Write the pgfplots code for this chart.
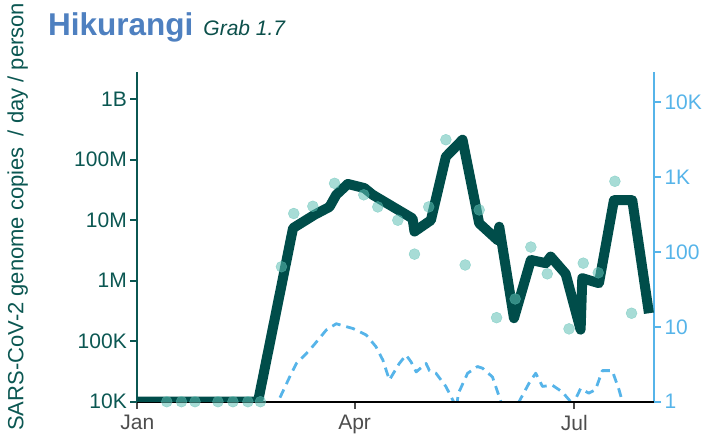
\documentclass[border=0pt]{standalone}
\usepackage{fontspec}
\setmainfont{Liberation Sans}
\usepackage{pgfplots}
\pgfplotsset{compat=1.18}
\definecolor{linecol}{HTML}{004D4A}
\definecolor{leftcol}{HTML}{0B5752}
\definecolor{ptcol}{HTML}{5FC0B5}
\definecolor{rightcol}{HTML}{56B4E9}
\definecolor{titlecol}{HTML}{4E80C0}
\definecolor{grabcol}{HTML}{0B4F4A}
\definecolor{xlabcol}{HTML}{4D4D4D}
\newcommand{\tickfont}{\fontsize{21bp}{24bp}\selectfont}
\begin{document}
\begin{tikzpicture}
% right axis (drawn first so its dashed line lies beneath)
\begin{axis}[
  scale only axis, width=516.7bp, height=329.7bp,
  at={(137.3bp,44.3bp)}, anchor=south west,
  xmin=0, xmax=214, ymode=log, ymin=1, ymax=25400,
  axis x line=none, axis y line*=right,
  y axis line style={-, rightcol, line width=2bp},
  ytick={1,10,100,1000,10000}, yticklabels={1,10,100,1K,10K},
  yticklabel style={rightcol, font=\tickfont},
  ytick style={rightcol, line width=2bp},
  tick align=outside, major tick length=7bp, yminorticks=false,
  clip=true,
]
\addplot[rightcol, line width=2.8bp, dash pattern=on 9bp off 6bp, line join=round] coordinates {
(0,0.8) (57,0.8) (58.3,1) (63.1,2.14) (65.9,3.24) (71.4,4.9) (78.3,9.1) (82.4,11) (85,10.4) (89.3,9.5)
(94.8,7.8) (98.9,5.4) (101.7,3.6) (104.4,1.95) (108.5,3.24) (111.3,4.2) (113.4,3.4)
(115.5,2.5) (119.6,3.24) (121,2.6) (123.7,2.4) (127.8,1.6) (131,1) (131.5,0.8) (132.5,1) (133,1.3)
(136.8,2.4) (140.9,2.95) (143,2.8) (147.1,2.14) (150.6,1) (151,0.8) (157.5,0.8) (158.1,1) (162.3,1.78)
(165,2.4) (167.8,1.6) (171.9,1.66) (176,1.35) (179.5,1) (180,0.8) (181,1) (183.6,1.5) (187,1.3)
(189.8,1.45) (192.6,2.6) (196.7,2.6) (199.5,1.45) (200.9,1) (201.5,0.8) (214,0.8)
};
\end{axis}
% left axis
\begin{axis}[
  scale only axis, width=516.7bp, height=329.7bp,
  at={(137.3bp,44.3bp)}, anchor=south west,
  xmin=0, xmax=214, ymode=log, ymin=1e4, ymax=2.82e9,
  axis x line*=bottom, axis y line*=left,
  x axis line style={-, black, line width=2bp},
  y axis line style={-, leftcol, line width=2bp},
  xtick={0,90,181}, xticklabels={Jan,Apr,Jul},
  ytick={1e4,1e5,1e6,1e7,1e8,1e9}, yticklabels={10K,100K,1M,10M,100M,1B},
  tick align=outside, major tick length=7bp, yminorticks=false, xminorticks=false,
  xtick style={xlabcol, line width=2bp}, ytick style={leftcol, line width=2bp},
  yticklabel style={leftcol, font=\tickfont},
  xticklabel style={xlabcol, font=\tickfont, yshift=-3bp},
  clip=true,
]
\addplot[linecol, line width=10bp, line join=round, line cap=butt] coordinates {
(0,1e4) (50,1e4) (64.5,7.4e6) (73.4,1.23e7) (79.6,1.66e7) (82.4,2.63e7) (87.2,3.98e7)
(94.1,3.39e7) (97.5,2.63e7) (114,1.07e7) (114.8,6.5e6) (121.6,1.0e7) (127.8,1.12e8)
(134.7,2.14e8) (141.6,8.9e6) (149.2,4.7e6) (149.9,7.8e6) (156,2.4e5) (163,2.2e6)
(169.2,1.95e6) (171.2,2.5e6) (177.4,1.3e6) (183.6,1.55e5) (184.3,1.1e6) (191.2,9.1e5)
(197.4,2.14e7) (205,2.14e7) (211.9,2.9e5)
};
\addplot[only marks, mark=*, color=ptcol, mark size=5.5bp, opacity=0.55] coordinates {
(12.2,1e4) (18.3,1e4) (23.9,1e4) (33.4,1e4) (39.6,1e4) (45.8,1e4) (51,1e4)
(59.7,1.7e6) (64.8,1.29e7) (72.7,1.7e7) (81.7,4.07e7) (93.8,2.63e7) (99.6,1.66e7)
(107.9,1.0e7) (114.8,2.75e6) (120.7,1.66e7) (127.8,2.14e8) (135.8,1.82e6)
(141.6,1.48e7) (148.8,2.45e5) (156.5,5.0e5) (163,3.6e6) (169.8,1.3e6) (178.8,1.6e5)
(184.7,1.95e6) (190.9,1.35e6) (197.8,4.4e7) (204.7,2.9e5)
};
\end{axis}
\node[anchor=base west, inner sep=0pt] at (48bp,410bp)
  {{\color{titlecol}\fontsize{31.5bp}{36bp}\selectfont\bfseries Hikurangi}\hspace{10bp}{\color{grabcol}\fontsize{21bp}{24bp}\selectfont\itshape Grab 1.7}};
\node[rotate=90, anchor=base west, inner sep=0pt, text=leftcol] at (23.3bp,15bp)
  {\fontsize{22bp}{25bp}\selectfont SARS-CoV-2 genome copies\hspace{0.5em}/ day / person};
\pgfresetboundingbox
\useasboundingbox (0,0) rectangle (713bp,446bp);
\end{tikzpicture}
\end{document}
